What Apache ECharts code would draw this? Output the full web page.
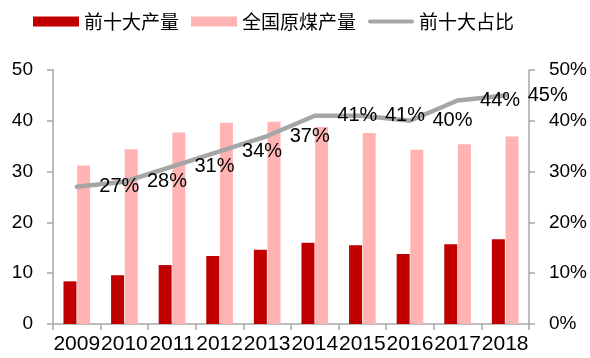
<!DOCTYPE html>
<html>
<head>
<meta charset="utf-8">
<script src="https://cdn.jsdelivr.net/npm/echarts@6/dist/echarts.min.js"></script>
<style>
  html, body { margin: 0; padding: 0; background: #fff; }
  #chart { width: 590px; height: 358px; }
</style>
</head>
<body>
<div id="chart"></div>
<script>
// Coal output: top-ten producers vs national total (亿吨), and top-ten share (%)
const years = ['2009', '2010', '2011', '2012', '2013', '2014', '2015', '2016', '2017', '2018'];
const topTenOutput = [8.4, 9.6, 11.6, 13.4, 14.6, 16.0, 15.5, 13.8, 15.7, 16.7];
const nationalOutput = [31.2, 34.4, 37.7, 39.6, 39.8, 38.8, 37.6, 34.3, 35.4, 36.9];
const topTenShare = [27, 28, 31, 34, 37, 41, 41, 40, 44, 45];

const latin = '"Liberation Sans", Arial, sans-serif';
const cjk = '"Noto Sans CJK SC", "Liberation Sans", sans-serif';
const axisGray = '#A6A6A6';
const lineGray = '#A6A6A6';

const chart = echarts.init(document.getElementById('chart'), null, { renderer: 'canvas' });
chart.setOption({
  animation: false,
  backgroundColor: '#fff',
  legend: {
    top: 7,
    left: 28,
    itemWidth: 46,
    itemHeight: 10,
    itemGap: 12,
    textStyle: { fontFamily: cjk, fontSize: 19, color: '#000' },
    data: [
      { name: '前十大产量', icon: 'rect', itemStyle: { color: '#C00000' } },
      { name: '全国原煤产量', icon: 'rect', itemStyle: { color: '#FFB3B3' } },
      { name: '前十大占比', icon: 'path://M2,0 L44,0 A2,2 0 0 1 44,4 L2,4 A2,2 0 0 1 2,0 Z', itemStyle: { color: lineGray } }
    ]
  },
  grid: { left: 53, right: 60, top: 70, bottom: 34 },
  xAxis: {
    type: 'category',
    data: years,
    boundaryGap: true,
    axisLine: { lineStyle: { color: axisGray, width: 1.5 } },
    axisTick: { show: true, length: 6, lineStyle: { color: axisGray, width: 1.5 } },
    axisLabel: { fontFamily: latin, fontSize: 21, color: '#000', margin: 10, interval: 0 }
  },
  yAxis: [
    {
      type: 'value', min: 0, max: 50, interval: 10,
      axisLine: { show: true, lineStyle: { color: axisGray, width: 1.5 } },
      axisTick: { show: true, length: 6, lineStyle: { color: axisGray, width: 1.5 } },
      splitLine: { show: false },
      axisLabel: { fontFamily: latin, fontSize: 19, color: '#000', margin: 20 }
    },
    {
      type: 'value', min: 0, max: 50, interval: 10,
      axisLine: { show: true, lineStyle: { color: axisGray, width: 1.5 } },
      axisTick: { show: true, length: 6, lineStyle: { color: axisGray, width: 1.5 } },
      splitLine: { show: false },
      axisLabel: { fontFamily: latin, fontSize: 19, color: '#000', margin: 20, formatter: '{value}%' }
    }
  ],
  series: [
    {
      name: '前十大产量',
      type: 'bar',
      data: topTenOutput,
      barWidth: 13,
      barGap: '5%',
      itemStyle: { color: '#C00000' }
    },
    {
      name: '全国原煤产量',
      type: 'bar',
      data: nationalOutput,
      barWidth: 13,
      barGap: '5%',
      itemStyle: { color: '#FFB3B3' }
    },
    {
      name: '前十大占比',
      type: 'line',
      yAxisIndex: 1,
      data: topTenShare,
      symbol: 'circle',
      symbolSize: 1,
      showSymbol: true,
      itemStyle: { color: 'rgba(0,0,0,0)' },
      lineStyle: { color: lineGray, width: 4.5, cap: 'round', join: 'round' },
      z: 5,
      label: {
        show: true,
        position: 'right',
        distance: 22,
        fontFamily: latin,
        fontSize: 20,
        color: '#000',
        formatter: p => p.value + '%'
      }
    }
  ]
});
</script>
</body>
</html>
